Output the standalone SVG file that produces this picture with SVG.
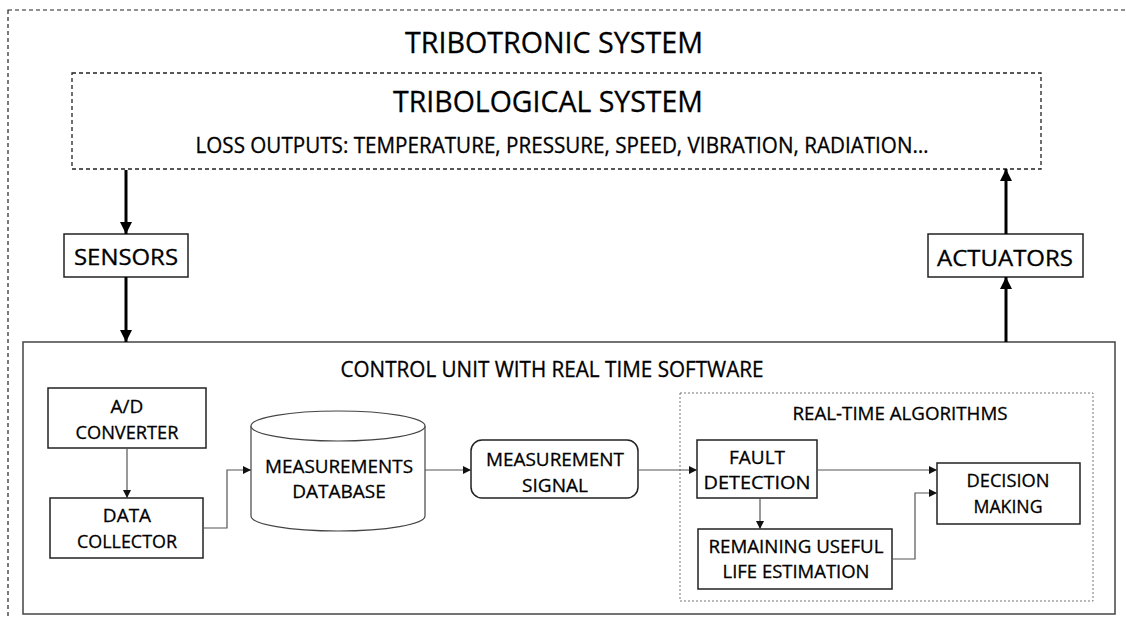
<svg xmlns="http://www.w3.org/2000/svg" width="1126" height="619" viewBox="0 0 1126 619">
<style>
text{font-family:"Open Sans","Liberation Sans",sans-serif;fill:#000;stroke:#000;stroke-width:0.3;text-anchor:middle}
.h1{font-size:29px}
.h2{font-size:21px}
.b{font-size:19px}
.box{fill:#fff;stroke:#222;stroke-width:1.5}
.thick{stroke:#000;stroke-width:3;fill:none}
.thin{stroke:#555;stroke-width:1.2;fill:none}
</style>
<defs>
<marker id="big" markerUnits="userSpaceOnUse" markerWidth="12" markerHeight="14" refX="12" refY="6" orient="auto">
<path d="M0,0 L12,6 L0,12 Z" fill="#000"/>
</marker>
<marker id="small" markerUnits="userSpaceOnUse" markerWidth="9" markerHeight="9" refX="8" refY="4" orient="auto">
<path d="M0,0 L8,4 L0,8 Z" fill="#111"/>
</marker>
</defs>
<rect x="8" y="10" width="1140" height="640" fill="none" stroke="#222" stroke-width="1.2" stroke-dasharray="4 3"/>
<g id="tribotronic-title"><text class="h1" x="554" y="53" textLength="298" lengthAdjust="spacingAndGlyphs">TRIBOTRONIC SYSTEM</text></g>
<g id="tribological">
<rect x="72" y="73" width="969" height="96" fill="#fff" stroke="#222" stroke-width="1.3" stroke-dasharray="4 3"/>
<text class="h1" x="548" y="112" textLength="310" lengthAdjust="spacingAndGlyphs">TRIBOLOGICAL SYSTEM</text>
<text class="h2" x="562" y="153" textLength="733" lengthAdjust="spacingAndGlyphs">LOSS OUTPUTS: TEMPERATURE, PRESSURE, SPEED, VIBRATION, RADIATION…</text>
</g>
<g id="sensors">
<rect class="box" x="64" y="234" width="124" height="43"/>
<text class="h2" x="126" y="265" textLength="104" lengthAdjust="spacingAndGlyphs">SENSORS</text>
</g>
<g id="actuators">
<rect class="box" x="928" y="234" width="155" height="43"/>
<text class="h2" x="1005" y="266" textLength="136" lengthAdjust="spacingAndGlyphs">ACTUATORS</text>
</g>
<g id="control-unit">
<rect x="23" y="342" width="1092" height="272" fill="#fff" stroke="#444" stroke-width="1.5"/>
<text class="h2" x="552" y="377" textLength="423" lengthAdjust="spacingAndGlyphs">CONTROL UNIT WITH REAL TIME SOFTWARE</text>
</g>
<g id="real-time-algorithms">
<rect x="680" y="393" width="413" height="208" fill="none" stroke="#777" stroke-width="1" stroke-dasharray="2 2"/>
<text class="b" x="900" y="420" textLength="215" lengthAdjust="spacingAndGlyphs">REAL-TIME ALGORITHMS</text>
</g>
<g id="ad-converter">
<rect class="box" x="48" y="388" width="158" height="60"/>
<text class="b" x="127" y="413">A/D</text>
<text class="b" x="127" y="439" textLength="103" lengthAdjust="spacingAndGlyphs">CONVERTER</text>
</g>
<g id="data-collector">
<rect class="box" x="50" y="498" width="153" height="60"/>
<text class="b" x="127" y="522">DATA</text>
<text class="b" x="127" y="548" textLength="100" lengthAdjust="spacingAndGlyphs">COLLECTOR</text>
</g>
<g id="measurements-database">
<path d="M251,426 L251,516 A87,15 0 0 0 425,516 L425,426" fill="#fff" stroke="#444" stroke-width="1.2"/>
<ellipse cx="338" cy="426" rx="87" ry="15" fill="#fff" stroke="#444" stroke-width="1.2"/>
<text class="b" x="339" y="473" textLength="148" lengthAdjust="spacingAndGlyphs">MEASUREMENTS</text>
<text class="b" x="339" y="498">DATABASE</text>
</g>
<g id="measurement-signal">
<rect class="box" x="471" y="440" width="167" height="58" rx="11"/>
<text class="b" x="555" y="466" textLength="138" lengthAdjust="spacingAndGlyphs">MEASUREMENT</text>
<text class="b" x="555" y="492">SIGNAL</text>
</g>
<g id="fault-detection">
<rect class="box" x="697" y="440" width="120" height="58"/>
<text class="b" x="757" y="464">FAULT</text>
<text class="b" x="757" y="489" textLength="107" lengthAdjust="spacingAndGlyphs">DETECTION</text>
</g>
<g id="rul-estimation">
<rect class="box" x="698" y="529" width="194" height="60"/>
<text class="b" x="796" y="553" textLength="175" lengthAdjust="spacingAndGlyphs">REMAINING USEFUL</text>
<text class="b" x="796" y="578" textLength="147" lengthAdjust="spacingAndGlyphs">LIFE ESTIMATION</text>
</g>
<g id="decision-making">
<rect class="box" x="937" y="463" width="143" height="61"/>
<text class="b" x="1008" y="487" textLength="83" lengthAdjust="spacingAndGlyphs">DECISION</text>
<text class="b" x="1008" y="513" textLength="69" lengthAdjust="spacingAndGlyphs">MAKING</text>
</g>
<g id="connectors">
<line class="thick" x1="126" y1="170" x2="126" y2="234" marker-end="url(#big)"/>
<line class="thick" x1="126" y1="277" x2="126" y2="342" marker-end="url(#big)"/>
<line class="thick" x1="1006" y1="342" x2="1006" y2="277" marker-end="url(#big)"/>
<line class="thick" x1="1006" y1="234" x2="1006" y2="169" marker-end="url(#big)"/>
<line class="thin" x1="127" y1="448" x2="127" y2="498" marker-end="url(#small)"/>
<polyline class="thin" points="203,528 227,528 227,470 251,470" marker-end="url(#small)"/>
<line class="thin" x1="425" y1="470" x2="471" y2="470" marker-end="url(#small)"/>
<line class="thin" x1="638" y1="470" x2="697" y2="470" marker-end="url(#small)"/>
<line class="thin" x1="817" y1="470" x2="937" y2="470" marker-end="url(#small)"/>
<line class="thin" x1="760" y1="498" x2="760" y2="529" marker-end="url(#small)"/>
<polyline class="thin" points="892,559 915,559 915,493 937,493" marker-end="url(#small)"/>
</g>
</svg>
